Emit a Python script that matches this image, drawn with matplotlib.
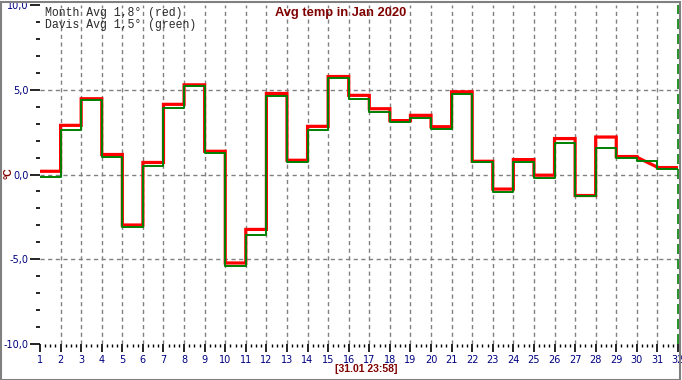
import matplotlib.pyplot as plt
import numpy as np
from matplotlib.ticker import MultipleLocator, FixedLocator
from matplotlib.patches import Rectangle

W, H = 682, 380

days = list(range(1, 32))
red = [0.19, 2.9, 4.47, 1.18, -2.98, 0.71, 4.14, 5.29, 1.37, -5.22,
       -3.24, 4.78, 0.84, 2.84, 5.78, 4.67, 3.88, 3.18, 3.49, 2.82,
       4.88, 0.78, -0.86, 0.88, -0.04, 2.12, -1.24, 2.21, 1.06, 1.02,
       0.41]
red_day30_end = 0.43
green = [-0.12, 2.63, 4.39, 1.06, -3.1, 0.51, 3.92, 5.22, 1.29, -5.41,
         -3.57, 4.63, 0.71, 2.63, 5.71, 4.45, 3.69, 3.12, 3.33, 2.69,
         4.75, 0.71, -1.06, 0.75, -0.18, 1.86, -1.29, 1.57, 1.0, 0.82,
         0.35]
ytick_vals = [-10, -5, 0, 5, 10]
ytick_labels = ["-10,0", "-5,0", "0,0", "5,0", "10,0"]
grid_y = [-5, 0, 5]
now_day = 32

title = "Avg temp in Jan 2020"
legend_lines = ["Month Avg 1,8° (red)", "Davis Avg 1,5° (green)"]
stamp = "[31.01 23:58]"

fig = plt.figure(figsize=(W / 100, H / 100), dpi=100)
ax = fig.add_axes([40 / W, 1 - 344 / H, 638 / W, 339 / H])

ax.set_xlim(1, 32)
ax.set_ylim(-10, 10)

# grid
grid_x = days[1:]
ax.vlines(grid_x, -10, 10, colors="#808080", linewidth=1.0,
          linestyles=(0, (3, 2.5)), zorder=1)
ax.hlines(grid_y, 1, 32, colors="#808080", linewidth=1.0,
          linestyles=(0, (3, 2.5)), zorder=1)

# red line (month average), day 30 drawn as a slope
rx, ry = [], []
for i, d in enumerate(days):
    rx.append(d)
    ry.append(red[i])
    rx.append(d + 1)
    ry.append(red_day30_end if d == 30 else red[i])
ax.plot(rx, ry, color="#ff0000", linewidth=2.3, zorder=3,
        solid_joinstyle="miter")

# green line (Davis)
gx = days + [days[-1] + 1]
gy = green + [green[-1]]
ax.plot(gx, gy, color="#008000", linewidth=1.4, drawstyle="steps-post",
        zorder=4)

# current time marker
ax.axvline(now_day, color="#008000", linewidth=1.2, dashes=(6, 3),
           clip_on=False, zorder=4)

for s in ax.spines.values():
    s.set_visible(False)

ax.xaxis.set_major_locator(FixedLocator(days + [32]))
ax.xaxis.set_minor_locator(MultipleLocator(0.25))
ax.set_xticklabels([str(d) for d in days + [32]])
ax.yaxis.set_major_locator(FixedLocator(ytick_vals))
ax.yaxis.set_minor_locator(MultipleLocator(1))
ax.set_yticklabels(ytick_labels)

ax.tick_params(axis="x", which="major", direction="out", length=6,
               width=1.2, color="black", labelsize=7, labelcolor="#000080",
               pad=2)
ax.tick_params(axis="x", which="minor", direction="out", length=2.5,
               width=1.0, color="black")
ax.tick_params(axis="y", which="major", direction="out", length=7,
               width=1.2, color="black", labelsize=7, labelcolor="#000080",
               pad=1)
ax.tick_params(axis="y", which="minor", direction="out", length=3,
               width=1.2, color="black")
for lab in ax.get_xticklabels() + ax.get_yticklabels():
    lab.set_family("DejaVu Sans")

# texts
fig.text(341 / W, 1 - 13 / H, title, ha="center", va="center",
         fontsize=9.3, fontweight="bold", color="#800000",
         family="Liberation Sans")
for i, line in enumerate(legend_lines):
    fig.text(45 / W, 1 - (13 + 12 * i) / H, line, ha="left", va="center",
             fontsize=8.3, color="#2a2a2a", family="Liberation Mono")
fig.text(8 / W, 1 - 173 / H, "°C", ha="center", va="center",
         rotation=90, fontsize=7.5, fontweight="bold", color="#800000",
         family="Liberation Sans")
fig.text(366 / W, 1 - 369 / H, stamp, ha="center", va="center",
         fontsize=7.5, fontweight="bold", color="#800000",
         family="Liberation Sans")

# outer frame
fig.patches.append(Rectangle((0.5 / W, 0.5 / H), 1 - 2.5 / W, 1 - 2.5 / H,
                             transform=fig.transFigure, fill=False,
                             edgecolor="#808080", linewidth=1.5))

fig.savefig("out.png", dpi=100)
plt.close(fig)
